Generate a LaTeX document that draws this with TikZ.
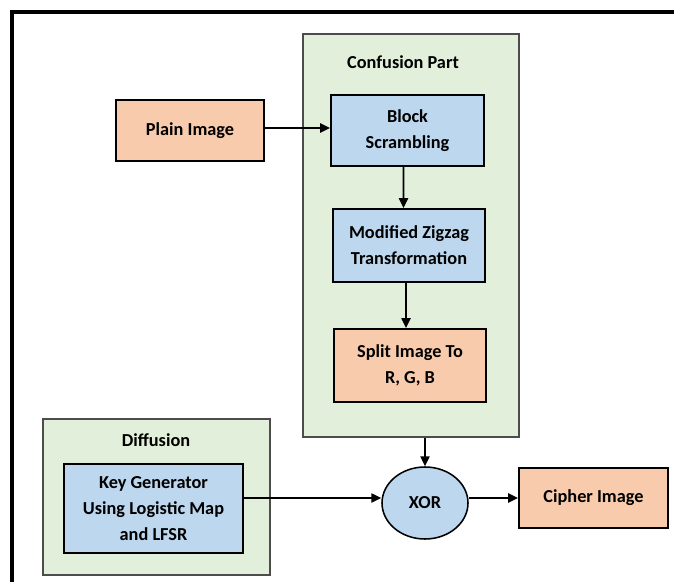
\documentclass[tikz,border=0pt]{standalone}
\usepackage{fontspec}
\setmainfont{Carlito}
\usepackage{tikz}
\usetikzlibrary{shapes,arrows.meta,calc}

\definecolor{peach}{HTML}{F8CBAD}
\definecolor{skyblue}{HTML}{BDD7EE}
\definecolor{palegreen}{HTML}{E2EFDA}

\begin{document}
\begin{tikzpicture}[x=0.025cm,y=-0.025cm]
      \tikzset{block box/.style={draw=black,
          line width=1.4pt,
          fill=#1,
          align=center,
          inner sep=0pt,
          font=\fontsize{13}{18.5}\selectfont\bfseries},
        part box/.style={draw=black!70,
          line width=1.1pt,
          fill=palegreen},
        flow/.style={-{Triangle[length=7pt,width=6.5pt]},line width=1.1pt},
        part title/.style={font=\fontsize{13}{18.5}\selectfont\bfseries}
      }
      \useasboundingbox (0,0) rectangle (674,582);
      \draw [line width=2.2pt] (12,600)--(12,12)--(690,12);

      \node [part box, minimum width=216*0.025cm, minimum height=403*0.025cm] (confusion) at (411,235.5) {};
      \node [part title] (ctitle) at (403,62) {Confusion Part};
      \node [part box, minimum width=227*0.025cm, minimum height=156*0.025cm] (diffusion) at (156.5,497) {};
      \node [part title] (dtitle) at (156,440) {Diffusion};

      \node [block box=peach, minimum width=148*0.025cm, minimum height=61*0.025cm] (plain) at (190,130.5) {Plain Image};
      \node [block box=skyblue, minimum width=153*0.025cm, minimum height=71*0.025cm] (block) at (407.5,130.5) {Block\\Scrambling};
      \node [block box=skyblue, minimum width=152*0.025cm, minimum height=73*0.025cm] (zigzag) at (409,245.5) {Modified Zigzag\\Transformation};
      \node [block box=peach, minimum width=152*0.025cm, minimum height=73*0.025cm] (split) at (410,365.5) {Split Image To\\R, G, B};
      \node [block box=skyblue, minimum width=179*0.025cm, minimum height=89*0.025cm] (keygen) at (153.5,508.5) {Key Generator\\Using Logistic Map\\and LFSR};
      \node [block box=skyblue, ellipse, line width=1.1pt, minimum width=86*0.025cm, minimum height=72*0.025cm] (xor) at (425,503) {XOR};
      \node [block box=peach, minimum width=149*0.025cm, minimum height=60*0.025cm] (cipher) at (593.5,498) {Cipher Image};

      \draw [flow] (plain.east|-0,128)--(block.west|-0,128);
      \draw [flow] ($(block.south)+(-4,0)$)--($(zigzag.north)+(-5.5,0)$);
      \draw [flow] ($(zigzag.south)+(-3,0)$)--($(split.north)+(-4,0)$);
      \draw [flow] (confusion.south-|xor.north)--(xor.north);
      \draw [flow] (keygen.east|-0,498)--(xor.west|-0,498);
      \draw [flow] (xor.east|-0,498)--(cipher.west|-0,498);

    \end{tikzpicture}
\end{document}
